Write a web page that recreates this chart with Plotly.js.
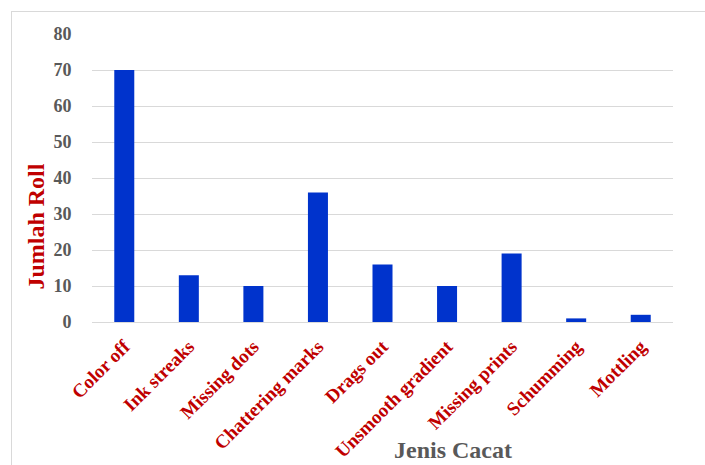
<!DOCTYPE html>
<html>
<head>
<meta charset="utf-8">
<script src="https://cdn.plot.ly/plotly-3.0.1.min.js"></script>
<style>
html,body{margin:0;padding:0;background:#fff;}
#chart{width:705px;height:465px;position:absolute;left:0;top:0;}
#frame{position:absolute;left:11px;top:11px;width:720px;height:480px;border:1px solid #d9d9d9;pointer-events:none;}
</style>
</head>
<body>
<div id="chart"></div>
<div id="frame"></div>
<script>
const categories = ["Color off","Ink streaks","Missing dots","Chattering marks","Drags out","Unsmooth gradient","Missing prints","Schumming","Mottling"];
const jumlahRoll = [70, 13, 10, 36, 16, 10, 19, 1, 2];
const yTicks = [0, 10, 20, 30, 40, 50, 60, 70, 80];

const serif = "'Liberation Serif', 'Times New Roman', serif";

Plotly.newPlot('chart', [{
  type: 'bar',
  x: categories,
  y: jumlahRoll,
  marker: {color: '#0033cc'},
  hoverinfo: 'none'
}], {
  width: 705, height: 465,
  margin: {l: 92, r: 32, t: 34, b: 143},
  paper_bgcolor: '#ffffff',
  plot_bgcolor: '#ffffff',
  bargap: 0.69,
  showlegend: false,
  xaxis: {
    tickangle: -45,
    tickfont: {family: serif, size: 19, color: '#c00000', weight: 'bold'},
    showgrid: false,
    showline: false,
    zeroline: false,
    ticks: 'outside', ticklen: 5, tickcolor: 'rgba(0,0,0,0)'
  },
  yaxis: {
    range: [0, 80],
    tickvals: yTicks,
    ticktext: yTicks.map(String),
    tickfont: {family: serif, size: 18, color: '#595959', weight: 'bold'},
    gridcolor: '#d9d9d9',
    gridwidth: 1,
    zeroline: true,
    zerolinecolor: '#d9d9d9',
    zerolinewidth: 1,
    showline: false,
    ticks: 'outside', ticklen: 16, tickcolor: 'rgba(0,0,0,0)'
  },
  annotations: [
    {text: 'Jumlah Roll', xref: 'paper', yref: 'paper', x: -0.097, y: 0.33,
     xanchor: 'center', yanchor: 'middle', textangle: -90, showarrow: false,
     font: {family: serif, size: 24, color: '#c00000', weight: 'bold'}},
    {text: 'Jenis Cacat', xref: 'paper', yref: 'paper', x: 0.621, y: -0.445,
     xanchor: 'center', yanchor: 'middle', showarrow: false,
     font: {family: serif, size: 24, color: '#595959', weight: 'bold'}}
  ]
}, {displayModeBar: false, staticPlot: true});
</script>
</body>
</html>
